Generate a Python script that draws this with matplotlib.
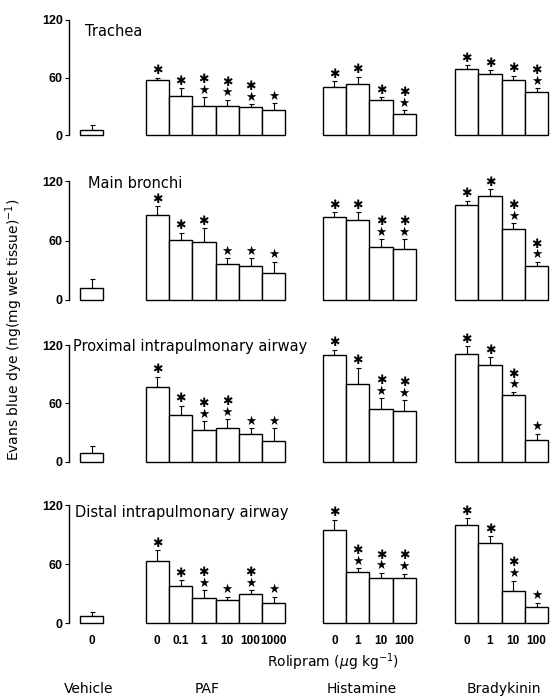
import numpy as np
import matplotlib.pyplot as plt

# ---- data (ng (mg wet tissue)^-1), mean and s.e.mean ----
panel_names = ["Trachea", "Main bronchi",
               "Proximal intrapulmonary airway", "Distal intrapulmonary airway"]
group_names = ["Vehicle", "PAF", "Histamine", "Bradykinin"]

vehicle_doses = ["0"]
paf_doses = ["0", "0.1", "1", "10", "100", "1000"]
hist_doses = ["0", "1", "10", "100"]
brady_doses = ["0", "1", "10", "100"]

vehicle_mean = [[5.0], [12.1], [9.2], [6.9]]
vehicle_sem = [[5.0], [8.6], [6.7], [4.5]]

paf_mean = [[57.6, 40.5, 30.5, 29.8, 28.8, 25.7],
            [85.5, 60.3, 58.6, 35.9, 34.5, 27.6],
            [76.3, 48.1, 32.9, 34.6, 28.8, 21.7],
            [63.5, 37.5, 26.0, 23.2, 29.8, 20.5]]
paf_sem = [[2.4, 8.2, 8.9, 6.9, 3.4, 7.6],
           [9.0, 7.6, 13.8, 6.2, 7.6, 11.0],
           [11.2, 9.5, 8.8, 8.8, 5.8, 12.9],
           [10.4, 6.2, 7.6, 3.9, 3.5, 6.6]]

hist_mean = [[49.7, 52.8, 36.7, 21.9],
             [83.4, 80.3, 53.4, 51.7],
             [110.2, 80.3, 54.2, 51.9],
             [94.7, 52.0, 46.1, 45.8]]
hist_sem = [[6.2, 8.2, 2.7, 4.1],
            [5.2, 8.3, 8.0, 9.7],
            [5.1, 16.3, 11.2, 11.5],
            [10.4, 4.2, 5.2, 4.5]]

brady_mean = [[69.3, 63.4, 56.9, 44.6],
              [95.9, 105.2, 71.7, 34.5],
              [110.8, 99.0, 68.5, 22.7],
              [99.9, 81.5, 32.6, 16.6]]
brady_sem = [[3.4, 4.1, 5.1, 4.1],
             [4.1, 6.8, 5.9, 4.1],
             [7.8, 8.5, 3.4, 6.1],
             [6.9, 6.9, 10.8, 4.2]]

# significance marks, read bottom to top: a = asterisk, s = star
vehicle_sig = [[""], [""], [""], [""]]
paf_sig = [["a", "a", "sa", "sa", "sa", "s"],
           ["a", "a", "a", "s", "s", "s"],
           ["a", "a", "sa", "sa", "s", "s"],
           ["a", "a", "sa", "s", "sa", "s"]]
hist_sig = [["a", "a", "a", "sa"],
            ["a", "a", "sa", "sa"],
            ["a", "a", "sa", "sa"],
            ["a", "sa", "sa", "sa"]]
brady_sig = [["a", "a", "a", "sa"],
             ["a", "a", "sa", "sa"],
             ["a", "a", "sa", "s"],
             ["a", "a", "sa", "s"]]

# ---- layout (pixels of the 551x698 figure) ----
W, H = 551, 698
panel_rows = [(20, 135), (181, 300), (345, 461.7), (505, 623.3)]   # y of 120 and 0
title_pos = [(85, 31), (88, 184), (73, 347), (75, 512)]
x_left = 69
bar_px = 23.3
group_start = [0.47, 3.29, 10.89, 16.57]   # in bar widths from the y axis

num_font = ["Liberation Sans", "DejaVu Sans"]
glyph = {"a": "\u2731", "s": "\u2605"}

fig = plt.figure(figsize=(W / 100, H / 100), dpi=100)


def draw_group(ax, x0, means, sems, sig):
    x = x0 + 0.5 + np.arange(len(means))
    ax.bar(x, means, width=1, color="white", edgecolor="black",
           linewidth=1.0, clip_on=False, zorder=2)
    ax.errorbar(x, means, yerr=[np.zeros(len(means)), sems], fmt="none",
                ecolor="black", elinewidth=0.8, capsize=1.8, capthick=0.8,
                clip_on=False, zorder=1)
    for xi, top, s in zip(x, np.add(means, sems), sig):
        if not s:
            continue
        # stacked marks as one text, top line first
        label = "\n".join(glyph[ch] for ch in reversed(s))
        ax.annotate(label, (xi, top), xytext=(0, 0.3),
                    textcoords="offset points", ha="center", va="bottom",
                    fontsize=9, linespacing=0.78, annotation_clip=False)
    return x


for p in range(4):
    y120, y0 = panel_rows[p]
    ax = fig.add_axes([x_left / W, 1 - y0 / H,
                       (W - x_left) / W, (y0 - y120) / H])
    ax.set_xlim(0, (W - x_left) / bar_px)
    ax.set_ylim(0, 120)
    for side in ["top", "right", "bottom"]:
        ax.spines[side].set_visible(False)
    ax.spines["left"].set_linewidth(1.0)
    ax.set_yticks([0, 60, 120])
    ax.set_yticklabels(["0", "60", "120"], family=num_font,
                       fontweight="bold", fontsize=9)
    ax.tick_params(axis="y", direction="out", length=3, width=0.8, pad=1.5)
    ax.patch.set_alpha(0)

    groups = [(vehicle_mean, vehicle_sem, vehicle_sig),
              (paf_mean, paf_sem, paf_sig),
              (hist_mean, hist_sem, hist_sig),
              (brady_mean, brady_sem, brady_sig)]
    centers = []
    for g, (m, s, sg) in enumerate(groups):
        centers.extend(draw_group(ax, group_start[g], m[p], s[p], sg[p]))

    if p == 3:
        ax.set_xticks(centers)
        ax.set_xticklabels(vehicle_doses + paf_doses + hist_doses + brady_doses,
                           family=num_font, fontweight="bold", fontsize=8.5)
        ax.tick_params(axis="x", length=0, pad=8.5)
    else:
        ax.set_xticks([])

    tx, ty = title_pos[p]
    fig.text(tx / W, 1 - ty / H, panel_names[p], fontsize=10.5,
             ha="left", va="center")

fig.text(14 / W, 1 - 330 / H, "Evans blue dye (ng(mg wet tissue)$^{-1}$)",
         rotation=90, ha="center", va="center", fontsize=10)
fig.text(333 / W, 1 - 662 / H, "Rolipram ($\\mu$g kg$^{-1}$)",
         ha="center", va="center", fontsize=10)

group_label_x = [89, 207, 362, 504]
for name, gx in zip(group_names, group_label_x):
    fig.text(gx / W, 1 - 689 / H, name, ha="center", va="center", fontsize=10)

fig.savefig("out.png", dpi=100)
